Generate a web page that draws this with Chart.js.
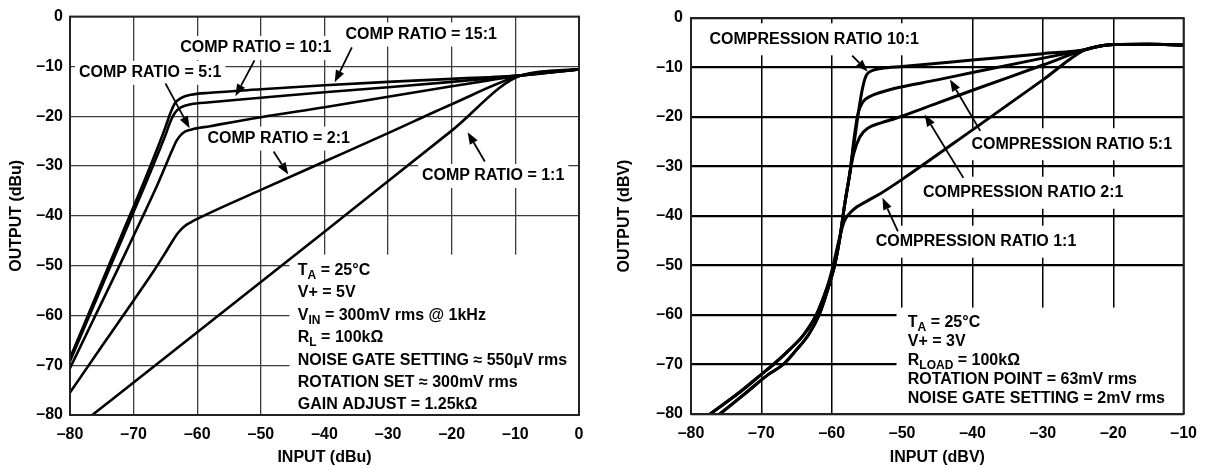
<!DOCTYPE html>
<html>
<head>
<meta charset="utf-8">
<script src="https://cdn.jsdelivr.net/npm/chart.js@4.4.1/dist/chart.umd.min.js"></script>
<style>
html, body { margin: 0; padding: 0; background: #fff; }
#wrap { position: relative; width: 1207px; height: 469px; }
#chartL { position: absolute; left: 0; top: 0; }
#chartR { position: absolute; left: 600px; top: 0; }
</style>
</head>
<body>
<div id="wrap">
    <canvas id="chartL" width="600" height="469"></canvas>
    <canvas id="chartR" width="607" height="469"></canvas>
</div>
<script>
/* ═══════════════════════════════════════════
   Compressor transfer curves — two panels
═══════════════════════════════════════════ */

// ── Left panel (dBu) ───────────────────────
const leftXTicks = [-80, -70, -60, -50, -40, -30, -20, -10, 0];
const leftYTicks = [0, -10, -20, -30, -40, -50, -60, -70, -80];

const left15 = [[-80,-68.6],[-76,-56.4],[-72,-44.2],[-68,-32],[-66,-25.6],[-65,-22.2],[-64.2,-19.3],[-63.5,-17.4],[-62.5,-16.3],[-61,-15.7],[-58,-15.3],[-50,-14.6],[-40,-13.8],[-30,-13.1],[-20,-12.5],[-9,-11.8],[0,-10.6]];
const left10 = [[-80,-69.2],[-76,-57.2],[-72,-45.2],[-68,-33.2],[-66,-27],[-65,-23.8],[-64.2,-21],[-63.5,-19.3],[-62.5,-18.2],[-61,-17.6],[-58,-17.2],[-50,-16.3],[-40,-15.2],[-30,-14.2],[-20,-13.1],[-9,-11.8],[0,-10.6]];
const left5  = [[-80,-70.6],[-76,-60],[-72,-49.4],[-70,-44],[-68,-38.6],[-66,-33],[-65,-30],[-64,-27],[-63.2,-24.8],[-62.3,-23.4],[-61,-22.7],[-58,-22],[-50,-20.2],[-40,-18.2],[-30,-16.1],[-20,-14],[-9,-11.8],[0,-10.6]];
const left2  = [[-80,-75.5],[-75,-66.2],[-70,-57],[-67,-51.4],[-65,-47.4],[-64,-45.3],[-63,-43.4],[-62,-42.1],[-61,-41.3],[-59,-40],[-50,-34.8],[-40,-29.1],[-30,-23.4],[-20,-17.6],[-9,-11.8],[0,-10.6]];
const left1  = [[-76.5,-80],[-60,-63.4],[-40,-43.2],[-20,-22.9],[-9,-11.8],[0,-10.6]];

// ── Right panel (dBV) ──────────────────────
const rightXTicks = [-80, -70, -60, -50, -40, -30, -20, -10];
const rightYTicks = [0, -10, -20, -30, -40, -50, -60, -70, -80];

const right10 = [[-75.9,-80],[-72,-75.5],[-69,-72],[-66.9,-70],[-65,-67],[-63.3,-64],[-61.8,-60],[-60.6,-55],[-59.6,-50],[-58.8,-44],[-58.2,-38],[-57.4,-31],[-56.7,-24],[-56.1,-18],[-55.6,-14],[-55.1,-11.6],[-54.2,-10.6],[-53,-10.2],[-50,-9.8],[-40,-8.5],[-30,-7.2],[-24,-6.4],[-22,-5.7],[-20,-5.35],[-15,-5.3],[-10,-5.45]];
const right5  = [[-75.9,-80],[-72,-75.5],[-69,-72],[-66.9,-70],[-65,-67],[-63.3,-64],[-61.8,-60],[-60.6,-55],[-59.6,-50],[-58.8,-44],[-58.2,-38],[-57.4,-31],[-56.8,-24],[-56.3,-19.5],[-55.6,-17],[-54.5,-15.8],[-53,-15],[-51,-14.2],[-45,-12.5],[-40,-11],[-30,-8.1],[-24,-6.4],[-22,-5.7],[-20,-5.35],[-15,-5.3],[-10,-5.45]];
const right2  = [[-77.3,-80],[-73,-75.5],[-70,-72],[-68.3,-70],[-66,-67],[-64,-64],[-62.2,-60],[-60.8,-55],[-59.6,-50],[-58.8,-44],[-58.2,-38],[-57.5,-32],[-56.9,-27.5],[-56,-24],[-54.8,-22.2],[-53,-21.2],[-51,-20.3],[-45,-17.2],[-40,-14.6],[-30,-9.5],[-24,-6.4],[-22,-5.7],[-20,-5.35],[-15,-5.3],[-10,-5.45]];
const right1  = [[-77.3,-80],[-73,-75.5],[-70,-72],[-68.3,-70],[-66,-67],[-64,-64],[-62.2,-60],[-60.8,-55],[-59.8,-50],[-59,-45],[-58.2,-41],[-57,-38.8],[-55,-37],[-53,-35.4],[-50,-32.6],[-40,-22.6],[-30,-12.5],[-24,-6.4],[-22,-5.7],[-20,-5.35],[-15,-5.3],[-10,-5.45]];

const FONT = '"Liberation Sans", Arial, Helvetica, sans-serif';
const fmt = v => v < 0 ? '\u2013' + (-v) : String(v);

// ── Plugin: labels, arrows, text block, frame ──
function makeNotes(n) {
    const px = (c, x, y) => [c.scales.x.getPixelForValue(x), c.scales.y.getPixelForValue(y)];
    return {
        id: 'notes',
        beforeDatasetsDraw(chart) {
            const ctx = chart.ctx;
            ctx.save();
            ctx.fillStyle = '#fff';
            n.blanks.forEach(b => {
                const [x1, y1] = px(chart, b[0], b[1]);
                const [x2, y2] = px(chart, b[2], b[3]);
                ctx.fillRect(Math.min(x1, x2), Math.min(y1, y2), Math.abs(x2 - x1), Math.abs(y2 - y1));
            });
            ctx.font = 'bold 16px ' + FONT;
            n.labels.forEach(l => {
                const [x, y] = px(chart, l.x, l.y);
                const w = ctx.measureText(l.text).width;
                ctx.fillRect(x - w / 2 - 4, y - n.boxH, w + 8, n.boxH * 2);
            });
            ctx.restore();
        },
        afterDatasetsDraw(chart) {
            const ctx = chart.ctx, a = chart.chartArea;
            ctx.save();
            ctx.fillStyle = '#000';
            ctx.strokeStyle = '#000';
            ctx.font = 'bold 16px ' + FONT;
            ctx.textAlign = 'center';
            ctx.textBaseline = 'middle';
            n.labels.forEach(l => {
                const [x, y] = px(chart, l.x, l.y);
                ctx.fillText(l.text, x, y);
            });

            // flechas
            n.arrows.forEach(ar => {
                const [x1, y1] = px(chart, ar[0], ar[1]);
                const [x2, y2] = px(chart, ar[2], ar[3]);
                const ang = Math.atan2(y2 - y1, x2 - x1), L = 12, W = 4.5;
                const bx = x2 - L * Math.cos(ang), by = y2 - L * Math.sin(ang);
                ctx.lineWidth = 1.8;
                ctx.beginPath(); ctx.moveTo(x1, y1); ctx.lineTo(bx, by); ctx.stroke();
                ctx.beginPath();
                ctx.moveTo(x2, y2);
                ctx.lineTo(bx + W * Math.sin(ang), by - W * Math.cos(ang));
                ctx.lineTo(bx - W * Math.sin(ang), by + W * Math.cos(ang));
                ctx.closePath(); ctx.fill();
            });

            // bloque de condiciones
            const [bx, by] = px(chart, n.block.x, n.block.y);
            ctx.textAlign = 'left';
            n.block.lines.forEach((line, i) => {
                let cx = bx;
                const cy = by + i * n.block.lh;
                line.forEach(seg => {
                    const sub = Array.isArray(seg);
                    const t = sub ? seg[0] : seg;
                    ctx.font = sub ? 'bold 12px ' + FONT : 'bold 16px ' + FONT;
                    ctx.fillText(t, cx, sub ? cy + 5 : cy);
                    cx += ctx.measureText(t).width;
                });
            });

            // marco
            ctx.strokeStyle = '#222';
            ctx.lineWidth = 2;
            ctx.strokeRect(a.left, a.top, a.right - a.left, a.bottom - a.top);
            ctx.restore();
        }
    };
}

function buildChart(id, series, c) {
    const tickFont = { family: FONT, size: 16, weight: 'bold' };
    return new Chart(document.getElementById(id), {
        type: 'scatter',
        data: {
            datasets: series.map(s => ({
                data: s,
                showLine: true,
                borderColor: '#000',
                borderWidth: c.lw,
                pointRadius: 0,
                cubicInterpolationMode: 'monotone',
                fill: false
            }))
        },
        options: {
            responsive: false,
            animation: false,
            events: [],
            layout: { padding: c.pad },
            plugins: { legend: { display: false }, tooltip: { enabled: false } },
            scales: {
                x: {
                    type: 'linear',
                    min: c.xTicks[0],
                    max: c.xTicks[c.xTicks.length - 1],
                    afterBuildTicks: s => { s.ticks = c.xTicks.map(v => ({ value: v })); },
                    afterFit: s => { s.height = c.xh; },
                    ticks: { color: '#000', font: tickFont, padding: 10, maxRotation: 0, autoSkip: false, callback: fmt },
                    grid: { color: c.gridX[0], lineWidth: c.gridX[1], drawTicks: false },
                    border: { display: false },
                    title: { display: true, text: c.xTitle, color: '#000', font: tickFont, padding: { top: 0, bottom: 2 } }
                },
                y: {
                    type: 'linear',
                    min: c.yTicks[c.yTicks.length - 1],
                    max: c.yTicks[0],
                    afterBuildTicks: s => { s.ticks = c.yTicks.map(v => ({ value: v })); },
                    afterFit: s => { s.width = c.yw; },
                    ticks: { color: '#000', font: tickFont, padding: c.ytp, autoSkip: false, callback: fmt },
                    grid: { color: c.gridY[0], lineWidth: c.gridY[1], drawTicks: false },
                    border: { display: false },
                    title: { display: true, text: c.yTitle, color: '#000', font: tickFont, padding: { top: c.ytitlePad, bottom: 0 } }
                }
            }
        },
        plugins: [makeNotes(c.notes)]
    });
}

buildChart('chartL', [left15, left10, left5, left2, left1], {
    xTicks: leftXTicks, yTicks: leftYTicks,
    xTitle: 'INPUT (dBu)', yTitle: 'OUTPUT (dBu)',
    pad: { left: 0, top: 10, right: 21, bottom: 0 },
    yw: 70, xh: 54, ytp: 7, ytitlePad: 7, lw: 2.6,
    gridX: ['#3c3c3c', 1.3], gridY: ['#3c3c3c', 1.3],
    notes: {
        boxH: 12,
        blanks: [[-45.5, -47.8, 0, -80]],
        labels: [
            { text: 'COMP RATIO = 15:1', x: -24.8, y: -3.6 },
            { text: 'COMP RATIO = 10:1', x: -50.8, y: -6.3 },
            { text: 'COMP RATIO = 5:1',  x: -67.4, y: -11.3 },
            { text: 'COMP RATIO = 2:1',  x: -47.2, y: -24.5 },
            { text: 'COMP RATIO = 1:1',  x: -13.5, y: -32.0 }
        ],
        arrows: [
            [-35.7, -6.2, -38.4, -13.2],
            [-51.0, -8.8, -54.0, -16.0],
            [-65.0, -13.4, -61.2, -22.4],
            [-48.0, -27.1, -45.7, -31.7],
            [-14.8, -29.1, -17.5, -23.2]
        ],
        block: {
            x: -44.2, y: -51.0, lh: 22.4,
            lines: [
                ['T', ['A'], ' = 25°C'],
                ['V+ = 5V'],
                ['V', ['IN'], ' = 300mV rms @ 1kHz'],
                ['R', ['L'], ' = 100kΩ'],
                ['NOISE GATE SETTING ≈ 550µV rms'],
                ['ROTATION SET ≈ 300mV rms'],
                ['GAIN ADJUST = 1.25kΩ']
            ]
        }
    }
});

buildChart('chartR', [right10, right5, right2, right1], {
    xTicks: rightXTicks, yTicks: rightYTicks,
    xTitle: 'INPUT (dBV)', yTitle: 'OUTPUT (dBV)',
    pad: { left: 0, top: 18, right: 19, bottom: 0 },
    yw: 91, xh: 55, ytp: 8, ytitlePad: 15, lw: 3,
    gridX: ['#000000', 1.5], gridY: ['#000000', 2.2],
    notes: {
        boxH: 16,
        blanks: [[-50.8, -58.5, -10, -80]],
        labels: [
            { text: 'COMPRESSION RATIO 10:1', x: -62.5, y: -4.3 },
            { text: 'COMPRESSION RATIO 5:1',  x: -25.9, y: -25.5 },
            { text: 'COMPRESSION RATIO 2:1',  x: -32.8, y: -35.3 },
            { text: 'COMPRESSION RATIO 1:1',  x: -39.5, y: -45.2 }
        ],
        arrows: [
            [-57.1, -7.6, -54.9, -10.8],
            [-38.9, -22.8, -43.2, -12.4],
            [-41.3, -32.3, -46.8, -19.5],
            [-50.6, -43.1, -52.8, -36.3]
        ],
        block: {
            x: -49.2, y: -61.5, lh: 19.1,
            lines: [
                ['T', ['A'], ' = 25°C'],
                ['V+ = 3V'],
                ['R', ['LOAD'], ' = 100kΩ'],
                ['ROTATION POINT = 63mV rms'],
                ['NOISE GATE SETTING = 2mV rms']
            ]
        }
    }
});
</script>
</body>
</html>
